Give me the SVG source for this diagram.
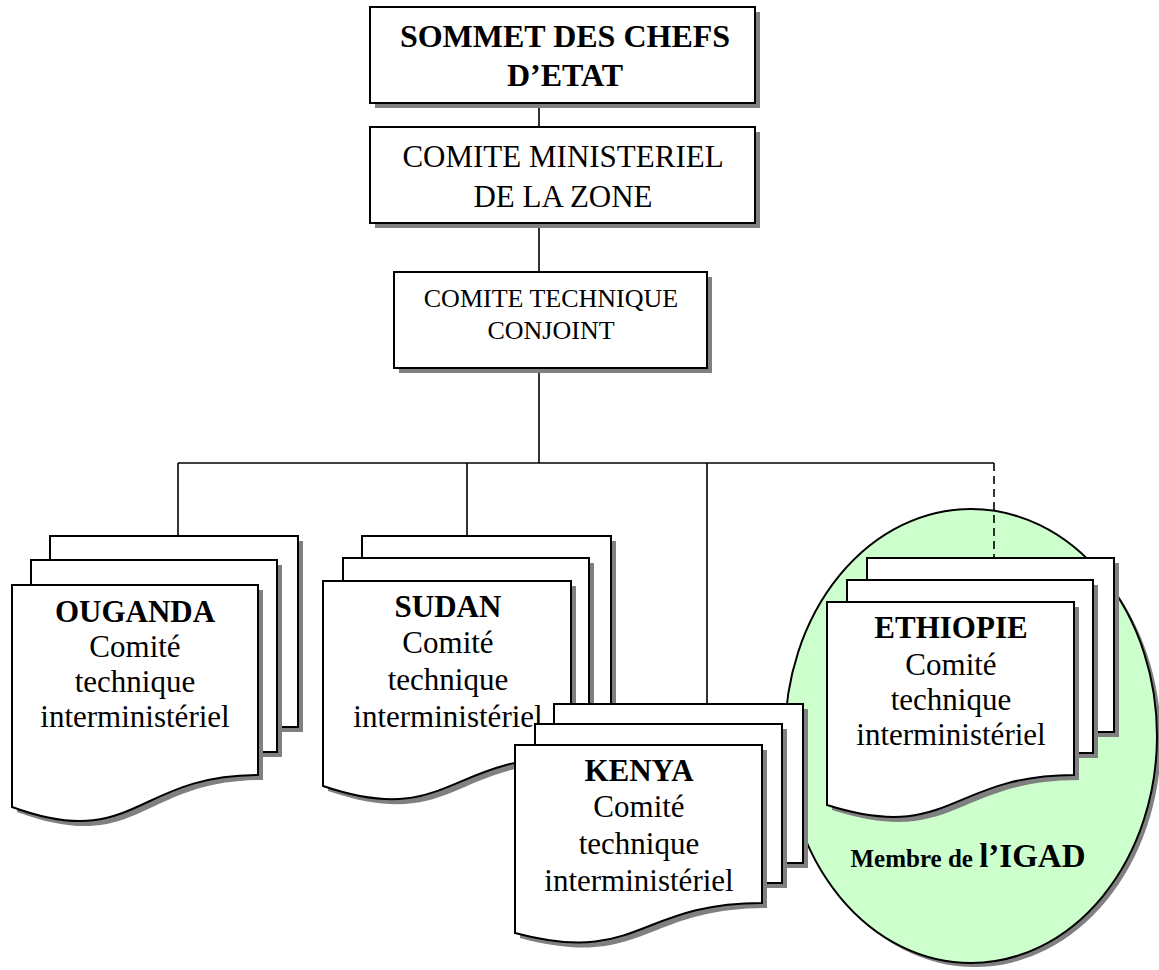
<svg xmlns="http://www.w3.org/2000/svg" xmlns:xlink="http://www.w3.org/1999/xlink" width="1159" height="970" viewBox="0 0 1159 970">
<style>
.sh{fill:#808080;stroke:none}
.bx{fill:#ffffff;stroke:#000;stroke-width:2}
.pg{fill:#ffffff;stroke:#000;stroke-width:2;stroke-linejoin:miter}
.ell{fill:#ccffcc;stroke:#000;stroke-width:2}
.ln{fill:none;stroke:#000;stroke-width:1.6}
.dash{fill:none;stroke:#000;stroke-width:1.6;stroke-dasharray:8,5}
text{font-family:"Liberation Serif","Times New Roman",serif;fill:#000;text-anchor:middle}
.t31{font-size:31px}
.t32{font-size:32px}
.t26{font-size:26px}
.b{font-weight:bold}
</style>
<defs>
<rect id="r1" x="370" y="7" width="385" height="96"/>
<rect id="r2" x="370" y="127" width="385" height="96"/>
<rect id="r3" x="394" y="272" width="313" height="96"/>
<ellipse id="igad" cx="971" cy="736" rx="186" ry="227"/>
<rect id="ou1" x="50" y="536" width="248" height="191"/>
<rect id="ou2" x="31" y="560" width="246" height="192"/>
<path id="ou3" d="M12,585 H258 V775 C135,775 135,852 12,807 Z"/>
<rect id="su1" x="362" y="536" width="249" height="175"/>
<rect id="su2" x="343" y="558" width="246" height="176"/>
<path id="su3" d="M323,581 H571 V757 C447,757 447,828 323,786 Z"/>
<rect id="ke1" x="554" y="704" width="249" height="159"/>
<rect id="ke2" x="535" y="724" width="247" height="159"/>
<path id="ke3" d="M515,745 H762 V903 C638,903 638,966 515,933 Z"/>
<rect id="et1" x="867" y="558" width="247" height="174"/>
<rect id="et2" x="847" y="580" width="246" height="173"/>
<path id="et3" d="M827,602 H1074 V775 C950,775 950,844 827,805 Z"/>
</defs>

<g id="membre-igad">
<use xlink:href="#igad" class="sh" transform="translate(4,4)"/>
<use xlink:href="#igad" class="ell"/>
<text x="968" y="867" class="b"><tspan font-size="25px">Membre de </tspan><tspan font-size="33px">l’IGAD</tspan></text>
</g>

<g id="connectors">
<line class="ln" x1="539" y1="103" x2="539" y2="127"/>
<line class="ln" x1="539" y1="223" x2="539" y2="272"/>
<line class="ln" x1="539" y1="368" x2="539" y2="463"/>
<line class="ln" x1="178" y1="463" x2="994" y2="463"/>
<line class="ln" x1="178" y1="463" x2="178" y2="536"/>
<line class="ln" x1="467" y1="463" x2="467" y2="536"/>
<line class="ln" x1="707" y1="463" x2="707" y2="704"/>
<line class="dash" x1="994" y1="463" x2="994" y2="558"/>
</g>

<g id="sommet">
<use xlink:href="#r1" class="sh" transform="translate(5,5)"/>
<use xlink:href="#r1" class="bx"/>
<text x="565" y="47" class="t32 b">SOMMET DES CHEFS</text>
<text x="565" y="86" class="t32 b">D’ETAT</text>
</g>

<g id="comite-ministeriel">
<use xlink:href="#r2" class="sh" transform="translate(5,5)"/>
<use xlink:href="#r2" class="bx"/>
<text x="563" y="167" class="t31">COMITE MINISTERIEL</text>
<text x="563" y="207" class="t31">DE LA ZONE</text>
</g>

<g id="comite-technique">
<use xlink:href="#r3" class="sh" transform="translate(5,5)"/>
<use xlink:href="#r3" class="bx"/>
<text x="551" y="307" class="t26">COMITE TECHNIQUE</text>
<text x="551" y="339" class="t26">CONJOINT</text>
</g>

<g id="ouganda">
<use xlink:href="#ou1" class="sh" transform="translate(5,5)"/>
<use xlink:href="#ou1" class="pg"/>
<use xlink:href="#ou2" class="sh" transform="translate(5,5)"/>
<use xlink:href="#ou2" class="pg"/>
<use xlink:href="#ou3" class="sh" transform="translate(5,5)"/>
<use xlink:href="#ou3" class="pg"/>
<text x="135" y="622" class="t31 b">OUGANDA</text>
<text x="135" y="657" class="t31">Comité</text>
<text x="135" y="692" class="t31">technique</text>
<text x="135" y="727" class="t31">interministériel</text>
</g>

<g id="sudan">
<use xlink:href="#su1" class="sh" transform="translate(5,5)"/>
<use xlink:href="#su1" class="pg"/>
<use xlink:href="#su2" class="sh" transform="translate(5,5)"/>
<use xlink:href="#su2" class="pg"/>
<use xlink:href="#su3" class="sh" transform="translate(5,5)"/>
<use xlink:href="#su3" class="pg"/>
<text x="448" y="617" class="t31 b">SUDAN</text>
<text x="448" y="653" class="t31">Comité</text>
<text x="448" y="690" class="t31">technique</text>
<text x="448" y="727" class="t31">interministériel</text>
</g>

<g id="kenya">
<use xlink:href="#ke1" class="sh" transform="translate(5,5)"/>
<use xlink:href="#ke1" class="pg"/>
<use xlink:href="#ke2" class="sh" transform="translate(5,5)"/>
<use xlink:href="#ke2" class="pg"/>
<use xlink:href="#ke3" class="sh" transform="translate(5,5)"/>
<use xlink:href="#ke3" class="pg"/>
<text x="639" y="781" class="t31 b">KENYA</text>
<text x="639" y="817" class="t31">Comité</text>
<text x="639" y="854" class="t31">technique</text>
<text x="639" y="891" class="t31">interministériel</text>
</g>

<g id="ethiopie">
<use xlink:href="#et1" class="sh" transform="translate(5,5)"/>
<use xlink:href="#et1" class="pg"/>
<use xlink:href="#et2" class="sh" transform="translate(5,5)"/>
<use xlink:href="#et2" class="pg"/>
<use xlink:href="#et3" class="sh" transform="translate(5,5)"/>
<use xlink:href="#et3" class="pg"/>
<text x="951" y="638" class="t31 b">ETHIOPIE</text>
<text x="951" y="675" class="t31">Comité</text>
<text x="951" y="710" class="t31">technique</text>
<text x="951" y="745" class="t31">interministériel</text>
</g>
</svg>
